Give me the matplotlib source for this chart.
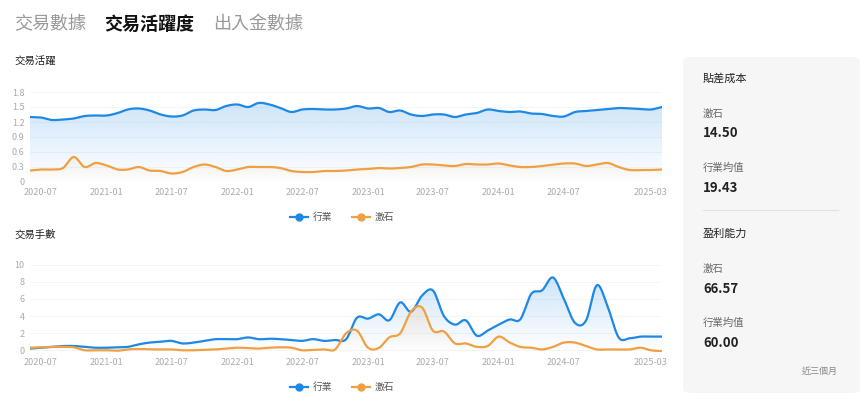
import numpy as np
import pandas as pd
import matplotlib
matplotlib.use("Agg")
import matplotlib.pyplot as plt
from matplotlib.patches import FancyBboxPatch

plt.rcParams['font.family'] = ['Noto Sans CJK TC', 'DejaVu Sans']

months = pd.date_range("2020-06-01", "2025-04-01", freq="MS")
tick_labels = ["2020-07", "2021-01", "2021-07", "2022-01", "2022-07", "2023-01",
               "2023-07", "2024-01", "2024-07", "2025-03"]

act_industry = [1.30, 1.29, 1.24, 1.25, 1.27, 1.32, 1.33,
                1.33, 1.38, 1.45, 1.47, 1.43, 1.35, 1.31, 1.33, 1.43, 1.45, 1.44, 1.52,
                1.55, 1.50, 1.58, 1.55, 1.48, 1.40, 1.45, 1.46, 1.45, 1.45, 1.47, 1.52,
                1.47, 1.48, 1.40, 1.43, 1.35, 1.32, 1.35, 1.35, 1.30, 1.35, 1.38, 1.45,
                1.42, 1.40, 1.41, 1.37, 1.36, 1.32, 1.31, 1.40, 1.42, 1.44, 1.46, 1.48,
                1.47, 1.46, 1.45, 1.50]
act_stock = [0.23, 0.25, 0.25, 0.28, 0.50, 0.30, 0.38,
             0.33, 0.25, 0.25, 0.30, 0.23, 0.22, 0.17, 0.20, 0.30, 0.35, 0.30, 0.22,
             0.25, 0.30, 0.30, 0.30, 0.28, 0.22, 0.20, 0.20, 0.22, 0.22, 0.23, 0.25,
             0.26, 0.28, 0.27, 0.28, 0.30, 0.35, 0.35, 0.33, 0.32, 0.36, 0.35, 0.35,
             0.37, 0.33, 0.30, 0.30, 0.32, 0.35, 0.37, 0.37, 0.32, 0.35, 0.38, 0.30,
             0.24, 0.24, 0.24, 0.25]
cnt_industry = [0.2, 0.3, 0.4, 0.5, 0.5, 0.4, 0.3,
                0.3, 0.35, 0.4, 0.7, 0.9, 1.0, 1.1, 0.8, 0.9, 1.1, 1.3, 1.3,
                1.3, 1.5, 1.3, 1.35, 1.3, 1.2, 1.1, 1.3, 1.1, 1.2, 1.3, 3.8,
                3.7, 4.2, 3.5, 5.6, 4.5, 6.4, 7.0, 4.0, 3.0, 3.5, 1.7, 2.3,
                3.0, 3.6, 3.6, 6.6, 7.0, 8.5, 6.0, 3.2, 3.5, 7.6, 5.0, 1.5,
                1.4, 1.6, 1.6, 1.6]
cnt_stock = [0.3, 0.35, 0.4, 0.4, 0.35, 0.0, 0.0,
             0.0, -0.05, 0.1, 0.15, 0.1, 0.1, 0.1, 0.0, 0.0, 0.05, 0.1, 0.2,
             0.3, 0.25, 0.2, 0.3, 0.35, 0.3, 0.0, 0.05, 0.1, 0.1, 2.0, 2.3,
             0.3, 0.3, 1.5, 2.0, 4.5, 5.0, 2.3, 2.2, 0.8, 0.8, 0.4, 0.5,
             1.6, 0.9, 0.4, 0.3, 0.1, 0.4, 0.9, 0.9, 0.5, 0.1, 0.1, 0.1,
             0.1, 0.3, 0.0, -0.1]

BLUE = "#1e88e5"
ORANGE = "#f0a040"

W, H = 865, 404
fig = plt.figure(figsize=(W / 100, H / 100), dpi=100)


def smooth(x, y, n=12):
    x = np.asarray(x, float); y = np.asarray(y, float)
    m = np.gradient(y, x)
    xs, ys = [], []
    for i in range(len(x) - 1):
        t = np.linspace(0, 1, n, endpoint=False)
        h = x[i + 1] - x[i]
        h00 = 2 * t**3 - 3 * t**2 + 1; h10 = t**3 - 2 * t**2 + t
        h01 = -2 * t**3 + 3 * t**2; h11 = t**3 - t**2
        xs.append(x[i] + t * h)
        ys.append(h00 * y[i] + h10 * h * m[i] + h01 * y[i + 1] + h11 * h * m[i + 1])
    xs.append([x[-1]]); ys.append([y[-1]])
    return np.concatenate(xs), np.concatenate(ys)


def grad_fill(ax, xs, ys, color, ymin, ymax, alpha):
    rgb = matplotlib.colors.to_rgb(color)
    img = np.zeros((100, 1, 4))
    img[:, 0, :3] = rgb
    img[:, 0, 3] = np.linspace(0, alpha, 100)
    top = ys.max()
    im = ax.imshow(img, aspect='auto', origin='lower',
                   extent=[xs[0], xs[-1], ymin, top], zorder=1)
    poly = ax.fill_between(xs, ys, ymin, color='none')
    path = poly.get_paths()[0]
    im.set_clip_path(path, transform=ax.transData)


def panel(bottom_px, top_px, y1, y2, ylim, yticks, ytl, fill_alpha):
    ax = fig.add_axes([30 / W, 1 - bottom_px / H, (662 - 30) / W, (bottom_px - top_px) / H])
    x = np.array([m.toordinal() for m in months], float)
    for data, col, lab, a in [(y1, BLUE, "行業", fill_alpha[0]), (y2, ORANGE, "激石", fill_alpha[1])]:
        xs, ys = smooth(x, data)
        grad_fill(ax, xs, ys, col, ylim[0], ylim[1], a)
        ax.plot(xs, ys, color=col, lw=1.6, zorder=3, label=lab)
    ax.set_xlim(x[0], x[-1])
    ax.set_ylim(*ylim)
    ax.set_yticks(yticks)
    ax.set_yticklabels(ytl)
    tpos = [pd.Timestamp(t + "-01").toordinal() for t in tick_labels]
    ax.set_xticks(tpos)
    ax.set_xticklabels(tick_labels)
    ax.tick_params(length=0, labelsize=6.5, colors="#aaaaaa", pad=4)
    for s in ax.spines.values():
        s.set_visible(False)
    ax.grid(axis='y', color="#f4f4f4", lw=0.6)
    ax.set_axisbelow(True)
    return ax


ax1 = panel(182, 92, act_industry, act_stock, (0, 1.8),
            [0, 0.3, 0.6, 0.9, 1.2, 1.5, 1.8], ["0", "0.3", "0.6", "0.9", "1.2", "1.5", "1.8"],
            (0.22, 0.10))
ax2 = panel(352, 263, cnt_industry, cnt_stock, (-0.2, 10.2),
            [0, 2, 4, 6, 8, 10], ["0", "2", "4", "6", "8", "10"], (0.22, 0.15))

for ypx in (217, 387):
    for xpx, col, lab in [(290, BLUE, "行業"), (352, ORANGE, "激石")]:
        fig.lines.append(plt.Line2D([xpx / W, (xpx + 18) / W], [1 - ypx / H] * 2,
                                    color=col, lw=1.6, transform=fig.transFigure))
        fig.lines.append(plt.Line2D([(xpx + 9) / W], [1 - ypx / H], color=col, marker='o',
                                    markersize=5, transform=fig.transFigure))
        fig.text((xpx + 23) / W, 1 - ypx / H, lab, fontsize=7, color="#555555", va='center')

# Tabs
fig.text(14 / W, 1 - 24 / H, "交易數據", fontsize=13, color="#999999", va='center')
fig.text(104 / W, 1 - 24 / H, "交易活躍度", fontsize=13, color="#111111", va='center', weight='bold')
fig.text(213 / W, 1 - 24 / H, "出入金數據", fontsize=13, color="#999999", va='center')
fig.text(14 / W, 1 - 62 / H, "交易活躍", fontsize=7.5, color="#222222", va='center')
fig.text(14 / W, 1 - 235 / H, "交易手數", fontsize=7.5, color="#222222", va='center')

# Right card
card = FancyBboxPatch((683 / W, 1 - 393 / H), (860 - 683) / W, (393 - 57) / H,
                      boxstyle="round,pad=0,rounding_size=0.01", transform=fig.transFigure,
                      facecolor="#f6f6f6", edgecolor="none")
fig.patches.append(card)
fig.lines.append(plt.Line2D([703 / W, 838 / W], [1 - 210 / H] * 2, color="#e2e2e2", lw=0.8,
                            transform=fig.transFigure))
items = [(78, "貼差成本", 8, "#222222", 'normal'),
         (114, "激石", 7.5, "#666666", 'normal'),
         (133, "14.50", 9.5, "#222222", 'bold'),
         (168, "行業均值", 7.5, "#666666", 'normal'),
         (188, "19.43", 9.5, "#222222", 'bold'),
         (234, "盈利能力", 8, "#222222", 'normal'),
         (269, "激石", 7.5, "#666666", 'normal'),
         (289, "66.57", 9.5, "#222222", 'bold'),
         (323, "行業均值", 7.5, "#666666", 'normal'),
         (343, "60.00", 9.5, "#222222", 'bold')]
for ypx, t, fs, c, w in items:
    fig.text(703 / W, 1 - ypx / H, t, fontsize=fs, color=c, weight=w, va='center')
fig.text(838 / W, 1 - 371 / H, "近三個月", fontsize=6.5, color="#888888", va='center', ha='right')

fig.savefig("out.png", dpi=100, facecolor="white")
